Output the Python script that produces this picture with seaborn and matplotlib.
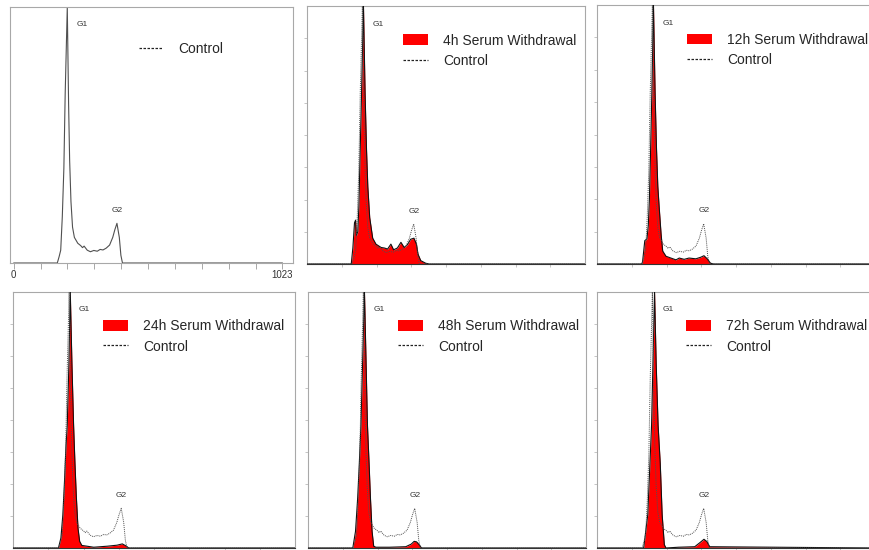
import numpy as np
import pandas as pd
import matplotlib
matplotlib.use('Agg')
import matplotlib.pyplot as plt
import seaborn as sns
from matplotlib.patches import Patch
from matplotlib.lines import Line2D

# DNA histograms: channel (0-1023) vs relative count (G1 peak = 100)
control_ch = [0, 166, 173, 179, 185, 191, 196, 204, 209, 213, 218, 224, 231, 244, 255, 262, 268,
              280, 292, 305, 318, 329, 340, 352, 365, 377, 385, 393, 402, 408, 414, 1023]
control_h = [0, 0, 2.5, 5, 18, 37, 66, 100, 62, 40, 24, 14, 10, 7.7, 6.8, 6.0, 6.6,
             5.0, 4.4, 4.9, 4.6, 5.3, 5.1, 5.8, 7.0, 10, 13, 15.5, 10, 3, 0, 0]

t4_ch = [0, 163, 169, 175, 179, 182, 187, 191, 195, 200, 208, 214, 219, 224, 231, 242, 254, 273,
         285, 297, 309, 319, 333, 346, 358, 370, 382, 394, 403, 409, 419, 437, 450, 1023]
t4_h = [0, 0, 6.3, 16, 17, 11, 12.5, 22, 40, 62, 100, 66, 45, 30, 18, 10, 7.7, 6.4,
        6.2, 5.8, 7.7, 5.5, 6.2, 8.4, 6.4, 7.5, 9.6, 10, 7.7, 3.8, 1.3, 0.3, 0, 0]

t12_ch = [0, 165, 168, 172, 176, 184, 189, 193, 197, 202, 208, 214, 219, 224, 229, 236, 242, 254,
          272, 291, 303, 321, 339, 364, 382, 394, 406, 418, 430, 1023]
t12_h = [0, 0, 1, 5, 9, 9.7, 15, 25, 42, 66, 100, 66, 45, 30, 22, 11.6, 5, 3,
         2.3, 1.6, 2.3, 1.8, 2.3, 2, 2.6, 3.2, 2, 0.3, 0, 0]

t24_ch = [0, 165, 174, 181, 187, 192, 197, 203, 208, 214, 220, 225, 230, 236, 242, 250, 269,
          293, 342, 378, 397, 412, 420, 1023]
t24_h = [0, 0, 3.9, 13, 26, 39, 48, 72, 100, 72, 48, 33, 20, 7.8, 2.6, 1, 0.7,
         0.3, 0.7, 1.1, 1.6, 0.7, 0, 0]

t48_ch = [0, 165, 175, 183, 189, 195, 201, 208, 214, 219, 225, 230, 236, 242, 250, 300, 360,
          380, 391, 400, 410, 418, 1023]
t48_h = [0, 0, 6.5, 19.6, 33, 48, 72, 100, 72, 48, 33, 19.6, 6.5, 0.7, 0.3, 0.3, 0.5,
         1.5, 2.6, 2.4, 1.2, 0, 0]

t72_ch = [0, 172, 187, 195, 201, 206, 212, 218, 225, 233, 240, 248, 254, 300, 360, 378, 394,
          405, 415, 1023]
t72_h = [0, 0, 13, 33, 48, 72, 100, 72, 48, 33, 13, 1.3, 0, 0.3, 0.5, 2, 3.4,
         2.5, 0.5, 0]

treat_names = ['4h', '12h', '24h', '48h', '72h']
treat_ch = [t4_ch, t12_ch, t24_ch, t48_ch, t72_ch]
treat_h = [t4_h, t12_h, t24_h, t48_h, t72_h]

sns.set_theme(style='white')
plt.rcParams['font.family'] = ['Liberation Sans', 'DejaVu Sans']

W, H = 869, 550
fig = plt.figure(figsize=(W / 100, H / 100), dpi=100)

def box(l, r, t, b):
    return [l / W, (H - b) / H, (r - l) / W, (b - t) / H]

# pixel boxes of the six panels
boxes = [box(10, 293, 7, 263), box(307, 585, 6, 264), box(597, 875, 5, 264),
         box(13, 295, 292, 548), box(308, 586, 292, 548), box(597, 875, 292, 548)]
leg_x = [0.345, 0.324, 0.32, 0.324, 0.32]

spine_col = '#a8a8a8'
ctrl_col = '#505050'

def style_axes(ax):
    for s in ax.spines.values():
        s.set_color(spine_col)
        s.set_linewidth(0.8)
    ax.set_xlabel('')
    ax.set_ylabel('')

def peak_labels(ax):
    g1 = control_ch[int(np.argmax(control_h))]
    ax.text(g1 + 36, 93, 'G1', fontsize=6, color='#333333', ha='left', va='center')
    g2_idx = int(np.argmax(np.array(control_h) * (np.array(control_ch) > 300)))
    ax.text(control_ch[g2_idx], control_h[g2_idx] + 5, 'G2', fontsize=6,
            color='#333333', ha='center', va='center')

# panel 1: control only
ax = fig.add_axes(boxes[0])
sns.lineplot(x=control_ch, y=control_h, ax=ax, color=ctrl_col, lw=0.8, errorbar=None)
ax.set_xlim(-14, 1063)
ax.set_ylim(0, 100)
style_axes(ax)
ticks = np.linspace(0, 1023, 11)
ax.set_xticks(ticks)
ax.set_xticklabels(['0'] + [''] * 9 + ['1023'], fontsize=7, color='#333333')
ax.tick_params(axis='x', direction='out', length=4, width=0.7, color=spine_col, pad=1,
               bottom=True)
ax.set_yticks([])
peak_labels(ax)
ax.legend([Line2D([], [], color='#222222', lw=0.9, ls=(0, (2, 1.2)))], ['Control'],
          loc='upper left', bbox_to_anchor=(0.456, 0.865), frameon=False, fontsize=10,
          handlelength=1.65, handletextpad=1.15, borderpad=0, borderaxespad=0)

# panels 2-6: serum withdrawal vs control
for i, name in enumerate(treat_names):
    ax = fig.add_axes(boxes[i + 1])
    ch, h = treat_ch[i], treat_h[i]
    ax.fill_between(ch, h, 0, color='#ff0000', lw=0, zorder=2)
    sns.lineplot(x=ch, y=h, ax=ax, color='#111111', lw=0.8, errorbar=None, zorder=3)
    sns.lineplot(x=control_ch, y=control_h, ax=ax, color=ctrl_col, lw=0.7,
                 linestyle=(0, (1, 1)), errorbar=None, zorder=4)
    ax.set_xlim(0, 1024)
    ax.set_ylim(0, 100)
    style_axes(ax)
    ax.spines['bottom'].set_color('#333333')
    ax.set_xticks(np.arange(128, 1024, 128))
    ax.set_yticks(np.arange(12.5, 100, 12.5))
    ax.set_xticklabels([])
    ax.set_yticklabels([])
    ax.tick_params(direction='out', length=2, width=0.6, color='#bbbbbb',
                   bottom=True, left=True)
    peak_labels(ax)
    handles = [Patch(facecolor='#ff0000', edgecolor='none'),
               Line2D([], [], color='#222222', lw=0.9, ls=(0, (2, 1.2)))]
    ax.legend(handles, [f'{name} Serum Withdrawal', 'Control'], loc='upper left',
              bbox_to_anchor=(leg_x[i], 0.893), frameon=False, fontsize=10,
              handlelength=1.8, handleheight=0.8, handletextpad=1.08, labelspacing=0.44,
              borderpad=0, borderaxespad=0)

fig.savefig('out.png', dpi=100)
